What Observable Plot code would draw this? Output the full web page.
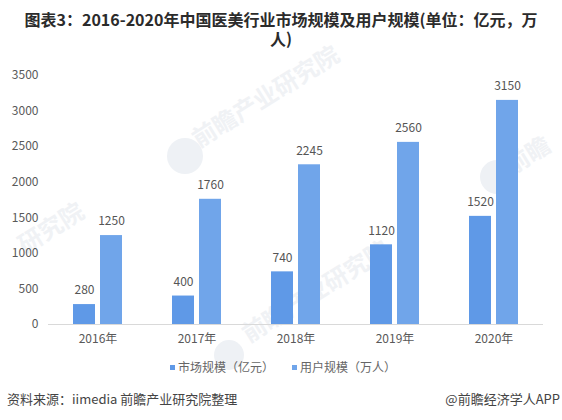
<!DOCTYPE html>
<html><head><meta charset="utf-8">
<script src="https://cdn.jsdelivr.net/npm/d3@7"></script>
<script src="https://cdn.jsdelivr.net/npm/@observablehq/plot@0.6"></script>
<style>
html,body{margin:0;padding:0;background:#fff;}
body{width:562px;height:420px;position:relative;overflow:hidden;font-family:"Noto Sans CJK SC","Noto Sans",sans-serif;}
#title{position:absolute;left:0;right:0;top:10px;text-align:center;font-size:16px;line-height:19px;font-weight:700;color:#2b2b2b;}
#chart{position:absolute;left:0;top:60px;}
#legend{position:absolute;left:170px;top:358px;font-size:12px;line-height:17px;color:#666;white-space:nowrap;}
#legend span.k{display:inline-block;width:5px;height:5px;margin-right:3px;vertical-align:2px;}
#legend span.t{margin-right:18px;}
#src{position:absolute;left:7px;top:390px;font-size:13px;line-height:18px;color:#444;}
#app{position:absolute;right:2px;top:390px;font-size:13px;line-height:18px;color:#444;}
.wm{position:absolute;color:#f0f2f5;font-weight:700;font-size:24px;line-height:24px;white-space:nowrap;transform:rotate(-32deg);transform-origin:left bottom;}
.dot{position:absolute;border-radius:50%;background:#eef1f5;}
</style></head><body>
<div class="dot" style="left:167px;top:138px;width:36px;height:36px"></div>
<div class="wm" style="left:200px;top:126px">前瞻产业研究院</div>
<div class="wm" style="left:26px;top:232px">研究院</div>
<div class="dot" style="left:480px;top:160px;width:34px;height:34px"></div>
<div class="wm" style="left:513px;top:153px">前瞻</div>
<div class="dot" style="left:214px;top:340px;width:30px;height:30px"></div>
<div class="wm" style="left:250px;top:321px">前瞻产业研究院</div>
<div id="title">图表3：2016-2020年中国医美行业市场规模及用户规模(单位：亿元，万<br>人)</div>
<div id="chart"></div>
<div id="legend"></div>
<div id="src">资料来源：iimedia 前瞻产业研究院整理</div>
<div id="app">@前瞻经济学人APP</div>
<script>
const years = ["2016年","2017年","2018年","2019年","2020年"];
const seriesNames = ["市场规模（亿元）","用户规模（万人）"];
const marketSize = [280,400,740,1120,1520];
const userSize = [1250,1760,2245,2560,3150];
const seriesColors = ["#5f99e7","#70a5ea"];
const yTicks = [0,500,1000,1500,2000,2500,3000,3500];

const rows = years.flatMap((y,i)=>[
  {year:y,series:seriesNames[0],value:marketSize[i]},
  {year:y,series:seriesNames[1],value:userSize[i]}
]);

const plot = Plot.plot({
  width:562, height:294,
  marginTop:15, marginBottom:30, marginLeft:48, marginRight:19,
  style:{background:"transparent",fontFamily:'"Noto Sans CJK SC","Noto Sans",sans-serif',fontSize:"12px",color:"#595959"},
  fx:{domain:years,padding:0,label:null,axis:"bottom",tickSize:0,tickPadding:10},
  x:{domain:seriesNames,paddingInner:0.2,paddingOuter:0.9,axis:null,label:null},
  y:{domain:[0,3500],ticks:yTicks,tickFormat:d=>String(d),label:null,tickSize:0,tickPadding:10},
  color:{domain:seriesNames,range:seriesColors},
  marks:[
    Plot.barY(rows,{fx:"year",x:"series",y:"value",fill:"series"}),
    Plot.text(rows,{fx:"year",x:"series",y:"value",text:d=>String(d.value),dy:-14,fill:"#555",fontSize:12}),
    Plot.ruleY([0],{stroke:"#d9d9d9",strokeWidth:1})
  ]
});
document.getElementById("chart").appendChild(plot);

const legend = document.getElementById("legend");
seriesNames.forEach((n,i)=>{
  const k=document.createElement("span");k.className="k";k.style.background=seriesColors[i];
  const t=document.createElement("span");t.className="t";t.textContent=n;
  legend.append(k,t);
});
</script>
</body></html>
